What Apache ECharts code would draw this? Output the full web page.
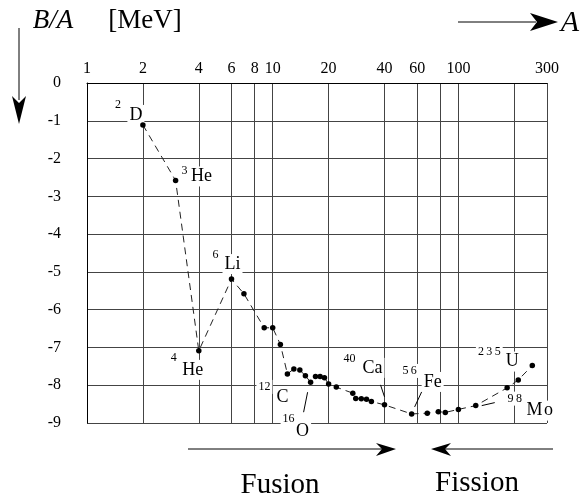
<!DOCTYPE html>
<html>
<head>
<meta charset="utf-8">
<script src="https://cdn.jsdelivr.net/npm/echarts@6/dist/echarts.min.js"></script>
<style>
html, body { margin: 0; padding: 0; background: #fff; }
#main { width: 581px; height: 499px; }
</style>
</head>
<body>
<div id="main"></div>
<script>
// mass number A and binding energy per nucleon B/A (MeV, drawn negative)
var massNumbers = [2, 3, 4, 6, 7, 9, 10, 11, 12, 13, 14, 15, 16, 17, 18, 19, 20, 22, 27, 28, 30, 32, 34, 40, 56, 68, 78, 85, 100, 124, 183, 210, 250];
var bindingPerA = [-1.11, -2.58, -7.09, -5.19, -5.58, -6.48, -6.48, -6.92, -7.70, -7.57, -7.60, -7.75, -7.92, -7.77, -7.77, -7.80, -7.97, -8.05, -8.21, -8.35, -8.36, -8.37, -8.43, -8.52, -8.76, -8.74, -8.70, -8.72, -8.64, -8.54, -8.07, -7.86, -7.48];

var xTickValues = [1, 2, 4, 6, 8, 10, 20, 40, 60, 80, 100, 200, 300];
var xLabelValues = [1, 2, 4, 6, 8, 10, 20, 40, 60, 100, 300];

// labelled nuclides: symbol, mass number, index of the point they belong to
var nuclideNames = ['D', 'He', 'He', 'Li', 'C', 'O', 'Ca', 'Fe', 'U', 'Mo'];
var nuclideMass = ['2', '3', '4', '6', '12', '16', '40', '56', '235', '98'];
var nuclidePoint = [0, 1, 2, 3, 8, 12, 23, 24, 32, 29];

// where each label sits, relative to its point (pixels)
var labelLayout = [
    {m: [-7, -10], s: [-25, -20]},
    {m: [26, -4], s: [9, -10]},
    {m: [-6, 19], s: [-25, 7]},
    {m: [1, -15], s: [-16, -24]},
    {m: [-5, 23], s: [-23, 13]},
    {m: [-8, 49], s: [-22, 37], lead: [-7, 30, -3, 10]},
    {m: [-12, -37], s: [-35, -46], lead: [-4, -20, 0, -8]},
    {m: [21, -32], s: [-2, -43], lead: [10, -22, 3, -7], wide: true},
    {m: [-20, -4], s: [-43, -14], wide: true},
    {m: [64, 5], s: [39, -7], lead: [19, -3, 6, 0], wide: true, wideName: true}
];

var serif = '"Liberation Serif", "DejaVu Serif", serif';
var log10 = function (v) { return Math.log10(v); };

var seriesData = massNumbers.map(function (a, i) {
    return [log10(a), bindingPerA[i]];
});

var chart = echarts.init(document.getElementById('main'));

var option = {
    backgroundColor: '#fff',
    animation: false,
    grid: { left: 87, right: 34, top: 83, bottom: 76 },
    xAxis: {
        type: 'value',
        position: 'top',
        min: 0,
        max: log10(300),
        axisLine: { show: true, lineStyle: { color: '#000', width: 1 } },
        axisTick: { show: false, customValues: xTickValues.map(log10) },
        axisLabel: {
            customValues: xLabelValues.map(log10),
            margin: 6,
            color: '#000',
            fontFamily: serif,
            fontSize: 16,
            formatter: function (v) { return Math.round(Math.pow(10, v)); }
        },
        splitLine: { show: true, lineStyle: { color: '#444', width: 1 } }
    },
    yAxis: {
        type: 'value',
        min: -9,
        max: 0,
        interval: 1,
        axisLine: { show: true, lineStyle: { color: '#000', width: 1 } },
        axisTick: { show: false },
        axisLabel: {
            margin: 26,
            color: '#000',
            fontFamily: serif,
            fontSize: 16,
            padding: [8, 0, 0, 0]
        },
        splitLine: { show: true, lineStyle: { color: '#444', width: 1 } }
    },
    series: [{
        type: 'line',
        data: seriesData,
        symbol: 'circle',
        symbolSize: 5.5,
        itemStyle: { color: '#000' },
        lineStyle: { color: '#222', width: 1, type: [7, 5] },
        z: 2
    }]
};
chart.setOption(option);

function txt(x, y, s, size, extra) {
    var st = {
        text: s, x: x, y: y,
        font: (extra && extra.italic ? 'italic ' : '') + size + 'px ' + serif,
        fill: '#000', align: 'center', verticalAlign: 'middle'
    };
    if (extra && extra.bg) { st.backgroundColor = '#fff'; st.padding = [1, 2]; }
    return { type: 'text', z: 3, style: st };
}
function seg(x1, y1, x2, y2) {
    return { type: 'line', z: 3, shape: { x1: x1, y1: y1, x2: x2, y2: y2 }, style: { stroke: '#000', lineWidth: 1 } };
}
function head(pts) {
    return { type: 'polygon', z: 3, shape: { points: pts }, style: { fill: '#000' } };
}

var graphics = [];
nuclideNames.forEach(function (name, i) {
    var k = nuclidePoint[i];
    var p = chart.convertToPixel({ gridIndex: 0 }, seriesData[k]);
    var L = labelLayout[i];
    var mass = L.wide ? nuclideMass[i].split('').join('\u2009') : nuclideMass[i];
    var main = L.wideName ? name.split('').join('\u200a') : name;
    var a = txt(p[0] + L.m[0], p[1] + L.m[1], main, 18, { bg: true });
    var b = txt(p[0] + L.s[0], p[1] + L.s[1], mass, 12, { bg: true });
    a.z = 1; b.z = 1;
    graphics.push(a, b);
    if (L.lead) {
        graphics.push(seg(p[0] + L.lead[0], p[1] + L.lead[1], p[0] + L.lead[2], p[1] + L.lead[3]));
    }
});

// axis captions and arrows
graphics.push(txt(53, 21, 'B/A', 27, { italic: true }));
graphics.push(txt(145, 21, '[MeV]', 27));
graphics.push(seg(19, 28, 19, 100));
graphics.push(head([[19, 124], [12, 96], [19, 103], [26, 96]]));
graphics.push(seg(458, 22, 536, 22));
graphics.push(head([[558, 22], [530, 13], [537, 22], [530, 31]]));
graphics.push(txt(570, 23, 'A', 30, { italic: true }));

graphics.push(seg(188, 449, 388, 449));
graphics.push(head([[396, 449], [376, 443], [382, 449], [376, 456]]));
graphics.push(txt(280, 485, 'Fusion', 29));
graphics.push(seg(440, 449, 553, 449));
graphics.push(head([[431, 449], [451, 443], [445, 449], [451, 456]]));
graphics.push(txt(477, 483, 'Fission', 29));

chart.setOption({ graphic: graphics });
</script>
</body>
</html>
